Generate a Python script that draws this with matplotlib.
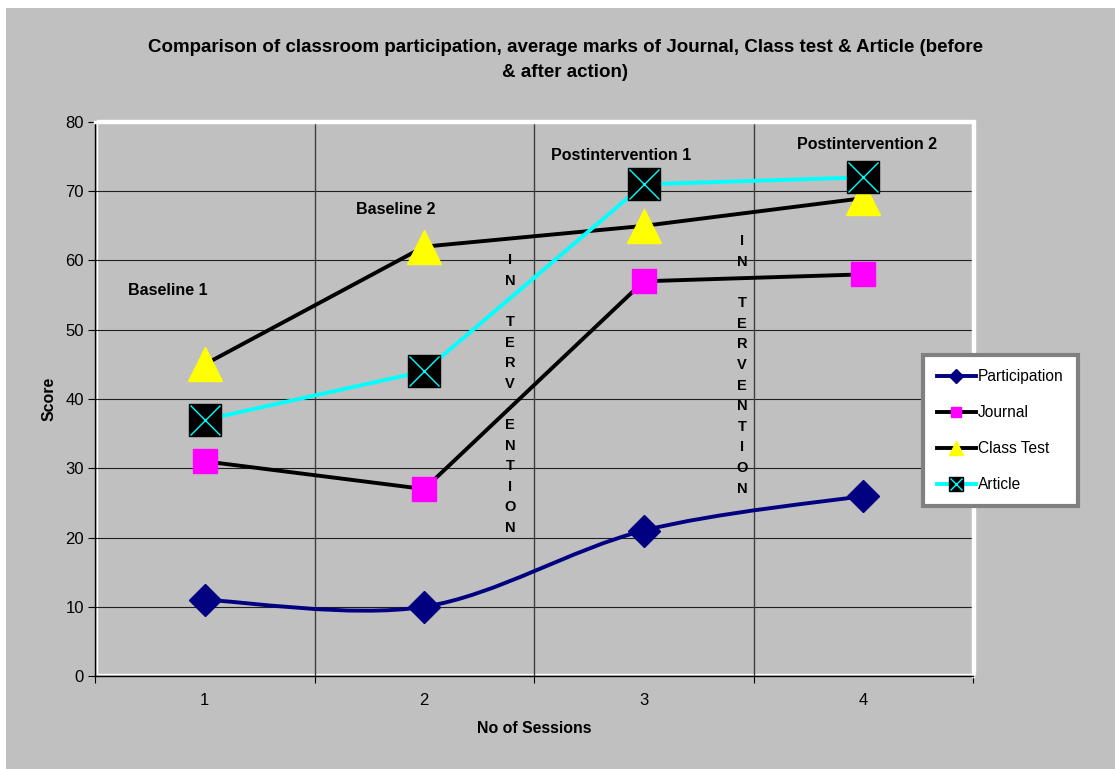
import matplotlib
matplotlib.use("Agg")
import matplotlib.pyplot as plt
from matplotlib.path import Path
from matplotlib.patches import PathPatch, Rectangle
from matplotlib.legend_handler import HandlerTuple

plt.rcParams['font.family'] = ['Liberation Sans', 'DejaVu Sans']

# data
sessions = [1, 2, 3, 4]
participation = [11, 10, 21, 26]
journal = [31, 27, 57, 58]
class_test = [45, 62, 65, 69]
article = [37, 44, 71, 72]

phase_labels = ["Baseline 1", "Baseline 2", "Postintervention 1", "Postintervention 2"]
phase_x = [0.833, 1.871, 2.896, 4.017]
phase_y = [55.7, 67.4, 75.2, 76.7]

bg = '#C0C0C0'


def smooth_path(xs, ys):
    # Excel style smoothed line: cubic bezier, control points from neighbours
    pts = list(zip(xs, ys))
    n = len(pts)
    verts = [pts[0]]
    codes = [Path.MOVETO]
    for i in range(n - 1):
        p0 = pts[i - 1] if i > 0 else pts[i]
        p1 = pts[i]
        p2 = pts[i + 1]
        p3 = pts[i + 2] if i + 2 < n else pts[i + 1]
        c1 = (p1[0] + (p2[0] - p0[0]) / 6, p1[1] + (p2[1] - p0[1]) / 6)
        c2 = (p2[0] - (p3[0] - p1[0]) / 6, p2[1] - (p3[1] - p1[1]) / 6)
        verts += [c1, c2, p2]
        codes += [Path.CURVE4] * 3
    return Path(verts, codes)


fig = plt.figure(figsize=(11.15, 7.69), dpi=100)
fig.patch.set_facecolor('white')
fig.patches.append(Rectangle((6 / 1115, 0), 1, (769 - 8) / 769, transform=fig.transFigure,
                             facecolor=bg, edgecolor='none', zorder=-10))

ax = fig.add_axes([95 / 1115, 93 / 769, 878 / 1115, 554 / 769])
ax.set_facecolor(bg)

# participation (smoothed)
ax.add_patch(PathPatch(smooth_path(sessions, participation), facecolor='none',
                       edgecolor='#000080', lw=2.8, zorder=3))
ax.plot(sessions, participation, linestyle='none', marker='D', ms=16,
        color='#000080', zorder=4)
p_handle, = ax.plot([], [], color='#000080', lw=2.8, marker='D', ms=16)

j_handle, = ax.plot(sessions, journal, color='black', lw=2.8, marker='s', ms=17.5,
                    markerfacecolor='#FF00FF', markeredgecolor='#FF00FF', zorder=5)
c_handle, = ax.plot(sessions, class_test, color='black', lw=2.8, marker='^', ms=24,
                    markerfacecolor='#FFFF00', markeredgecolor='#FFFF00', zorder=6)
a_handle, = ax.plot(sessions, article, color='#00FFFF', lw=2.8, marker='s', ms=23.5,
                    markerfacecolor='black', markeredgecolor='black', zorder=7)
a_x, = ax.plot(sessions, article, linestyle='none', marker='x', ms=22,
               markeredgecolor='#00FFFF', markeredgewidth=1, zorder=8)

ax.set_xlim(0.5, 4.5)
ax.set_ylim(0, 80)
ax.set_yticks(range(0, 81, 10))
ax.set_xticks([0.5, 1.5, 2.5, 3.5, 4.5])
ax.set_xticklabels([])
ax.set_xticks(sessions, minor=True)
ax.set_xticklabels([str(s) for s in sessions], minor=True)
ax.tick_params(axis='x', which='minor', length=0, pad=12.5, labelsize=12)
ax.tick_params(axis='x', which='major', length=5, color='black', direction='out')
ax.tick_params(axis='y', length=5, direction='out', labelsize=12, pad=3)

for y in range(10, 80, 10):
    ax.axhline(y, color='#202020', lw=0.8, zorder=1)
for x in [1.5, 2.5, 3.5]:
    ax.axvline(x, color='#404040', lw=1, zorder=1)

for s in ['top', 'right']:
    ax.spines[s].set_color('white')
    ax.spines[s].set_linewidth(2.5)
for s in ['left', 'bottom']:
    ax.spines[s].set_color('black')
    ax.spines[s].set_linewidth(1)
ax.add_patch(Rectangle((0.002, 0.003), 1, 1, transform=ax.transAxes, facecolor='none',
                       edgecolor='white', lw=1, clip_on=False, zorder=0.5))

for lbl, x, y in zip(phase_labels, phase_x, phase_y):
    ax.text(x, y, lbl, ha='center', va='center', fontsize=11.5, fontweight='bold', zorder=9)

ax.text(2.39, 40.7, "I\nN\n\nT\nE\nR\nV\n\nE\nN\nT\nI\nO\nN", ha='center', va='center',
        fontsize=10.5, fontweight='bold', linespacing=1.6, zorder=9)
ax.text(3.448, 44.9, "I\nN\n\nT\nE\nR\nV\nE\nN\nT\nI\nO\nN", ha='center', va='center',
        fontsize=10.5, fontweight='bold', linespacing=1.6, zorder=9)

ax.set_xlabel("No of Sessions", fontsize=11.4, fontweight='bold', labelpad=9)
ax.set_ylabel("Score", fontsize=11.4, fontweight='bold', labelpad=6)

fig.text(565 / 1115, 1 - 60 / 769,
         "Comparison of classroom participation, average marks of Journal, Class test & Article (before\n& after action)",
         ha='center', va='center', fontsize=13.5, fontweight='bold', linespacing=1.6)

leg = fig.legend([p_handle, j_handle, c_handle, (a_handle, a_x)],
                 ["Participation", "Journal", "Class Test", "Article"],
                 handler_map={tuple: HandlerTuple(ndivide=1)},
                 loc='upper left', bbox_to_anchor=(923 / 1115, 1 - 355 / 769),
                 borderaxespad=0, fontsize=11.2, markerscale=0.42, handlelength=2.5,
                 handletextpad=0.15, labelspacing=1.36, borderpad=0.9, fancybox=False,
                 framealpha=1, facecolor='white', edgecolor='#808080')
leg.get_frame().set_linewidth(3)

fig.savefig("out.png", dpi=100, facecolor=fig.get_facecolor())
